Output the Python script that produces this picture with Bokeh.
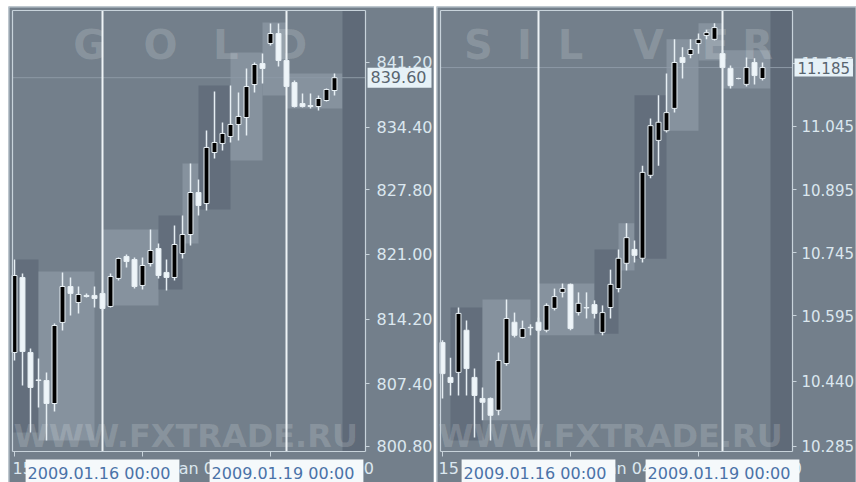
from bokeh.plotting import figure
from bokeh.layouts import row, column
from bokeh.models import (Range1d, FixedTicker, PrintfTickFormatter, Label, LinearAxis, Spacer)
from bokeh.embed import file_html
from bokeh.resources import INLINE

# ---------------- data: GOLD (H1) ----------------
gold_open = [810.69, 818.58, 810.69, 807.80, 807.74, 805.32, 813.85, 817.63, 815.95, 816.69,
             816.69, 816.90, 815.53, 818.48, 820.79, 820.47, 817.74, 820.05, 821.63, 819.11,
             818.58, 821.10, 823.10, 827.52, 826.36, 831.73, 832.68, 833.41, 834.68, 835.41,
             838.88, 841.09, 843.20, 844.25, 841.41, 839.09, 836.88, 836.67, 836.57, 837.20, 838.25]
gold_high = [820.47, 819.00, 811.10, 810.06, 808.59, 813.74, 819.11, 818.58, 817.63, 816.90,
             817.63, 817.21, 819.00, 820.68, 820.99, 820.68, 820.68, 823.63, 822.16, 820.47,
             824.05, 825.10, 830.57, 828.89, 834.04, 838.15, 834.89, 838.78, 838.04, 840.57,
             841.20, 842.14, 845.30, 845.30, 841.62, 839.30, 837.94, 837.94, 837.73, 838.46, 840.04]
gold_low = [809.85, 807.22, 802.27, 804.90, 801.43, 804.48, 813.00, 814.58, 814.79, 816.48,
            815.42, 815.11, 815.42, 818.26, 819.63, 817.42, 817.32, 819.74, 818.48, 817.21,
            818.26, 820.58, 821.95, 825.10, 825.63, 831.10, 831.94, 832.78, 833.00, 833.52,
            838.04, 838.99, 842.99, 840.78, 838.57, 836.46, 836.46, 836.36, 836.15, 837.10, 837.73]
gold_close = [818.79, 810.79, 807.01, 807.74, 805.32, 813.53, 817.63, 816.90, 816.79, 816.58,
              816.37, 815.32, 818.68, 820.58, 820.26, 817.63, 819.84, 821.42, 818.79, 818.58,
              822.05, 823.10, 827.52, 826.15, 832.26, 832.78, 833.73, 834.68, 835.52, 838.67,
              840.99, 840.57, 844.25, 841.41, 838.67, 836.57, 836.57, 836.57, 837.41, 838.36, 839.60]
gold_yticks = [800.80, 807.40, 814.20, 821.00, 827.80, 834.40, 841.20]
gold_xticks = [0, 16, 32]
gold_xtick_labels = ["15 Jan 13:00", "16 Jan 05:00", "16 Jan 21:00"]
gold_day_starts = [11, 34]
gold_day_labels = ["2009.01.16 00:00", "2009.01.19 00:00"]
gold_box_left = [-1, 3, 11, 18, 21, 23, 27, 31, 34]
gold_box_right = [3, 10, 18, 21, 23, 27, 31, 34, 41]
gold_box_top = [820.47, 819.21, 823.63, 825.10, 830.57, 838.78, 842.25, 845.41, 840.04]
gold_box_bottom = [802.27, 801.43, 815.64, 817.32, 822.16, 825.73, 830.89, 837.73, 836.36]
gold_box_kind = ["dark", "light", "light", "dark", "light", "dark", "light", "light", "light"]

# ---------------- data: SILVER (H1) ----------------
silver_open = [10.532, 10.449, 10.461, 10.561, 10.449, 10.399, 10.399, 10.371, 10.482, 10.580,
               10.544, 10.568, 10.580, 10.561, 10.613, 10.651, 10.670, 10.603, 10.615, 10.622,
               10.556, 10.615, 10.660, 10.720, 10.753, 10.732, 10.929, 11.012, 11.035, 11.088,
               11.209, 11.216, 11.242, 11.261, 11.252, 11.218, 11.183, 11.159, 11.145, 11.197, 11.159]
silver_high = [10.537, 10.496, 10.615, 10.584, 10.470, 10.425, 10.401, 10.508, 10.634, 10.603,
               10.584, 10.575, 10.591, 10.625, 10.660, 10.672, 10.672, 10.651, 10.651, 10.632,
               10.620, 10.705, 10.753, 10.815, 10.774, 10.952, 11.064, 11.119, 11.171, 11.252,
               11.233, 11.252, 11.266, 11.275, 11.290, 11.226, 11.190, 11.161, 11.209, 11.207, 11.197]
silver_low = [10.399, 10.406, 10.406, 10.406, 10.306, 10.347, 10.299, 10.359, 10.477, 10.544,
              10.542, 10.549, 10.556, 10.556, 10.608, 10.639, 10.561, 10.596, 10.589, 10.589,
              10.549, 10.589, 10.651, 10.703, 10.722, 10.722, 10.922, 10.952, 11.031, 11.078,
              11.159, 11.207, 11.218, 11.252, 11.249, 11.183, 11.135, 11.157, 11.140, 11.145, 11.154]
silver_close = [10.458, 10.437, 10.601, 10.470, 10.406, 10.390, 10.359, 10.489, 10.589, 10.549,
                10.565, 10.567, 10.561, 10.620, 10.641, 10.660, 10.565, 10.625, 10.614, 10.601,
                10.603, 10.670, 10.732, 10.781, 10.739, 10.936, 11.047, 11.055, 11.078, 11.197,
                11.197, 11.228, 11.252, 11.268, 11.280, 11.185, 11.142, 11.159, 11.185, 11.166, 11.185]
silver_yticks = [10.285, 10.440, 10.595, 10.745, 10.895, 11.045, 11.195]
silver_xticks = [0, 16, 32]
silver_xtick_labels = ["15 Jan 12:00", "16 Jan 04:00", "16 Jan 20:00"]
silver_day_starts = [12, 35]
silver_day_labels = ["2009.01.16 00:00", "2009.01.19 00:00"]
silver_box_left = [1, 5, 12, 19, 22, 24, 28, 32, 35]
silver_box_right = [5, 11, 19, 22, 24, 28, 32, 35, 41]
silver_box_top = [10.615, 10.634, 10.672, 10.753, 10.815, 11.119, 11.252, 11.290, 11.226]
silver_box_bottom = [10.299, 10.347, 10.549, 10.553, 10.703, 10.731, 11.035, 11.202, 11.135]
silver_box_kind = ["dark", "light", "light", "dark", "light", "dark", "light", "light", "light"]

# ---------------- styles ----------------
BG = "#737f8b"
BOX_COLORS = {"light": "#86929e", "dark": "#636e7c"}
STRIP = "#5f6a78"
FRAME = "#c8d3db"
WICK = "#e6eef3"
BEAR_FILL = "#eef5f9"
BULL_FILL = "#000000"
TEXT = "#dbe7ef"
FONT = "DejaVu Sans"


def make_panel(o, h, l, c, yticks, fmt, xticks, xlabels, xlabel_dx, days, day_labels,
               bl, br, bt, bb, bk, view, chart, width,
               title_letters, letter_x, letter_y, wm_x, wm_y,
               ylabel_size="16px", ylabel_standoff=7, price_pad=5):
    # view  = (x_start, x_end, y_start, y_end) of the whole window
    # chart = (left, right, bottom, top) of the price chart inside the window
    x0v, x1v, y0v, y1v = view
    cl, cr, cb, ct = chart
    p = figure(width=width, height=476, x_range=Range1d(x0v, x1v),
               y_range=Range1d(y0v, y1v), x_axis_location=None, y_axis_location=None,
               output_backend="svg", toolbar_location=None, min_border=0,
               background_fill_color=BG, border_fill_color=BG, outline_line_color=None)
    p.grid.visible = False

    # session boxes (clipped to the chart area)
    p.quad(left=[max(v, cl) for v in bl], right=br, top=bt,
           bottom=[max(v, cb) for v in bb],
           fill_color=[BOX_COLORS[k] for k in bk], line_color=None, level="underlay")
    # empty future area at the right of the chart
    p.quad(left=[len(c)], right=[cr], top=[ct], bottom=[cb], fill_color=STRIP,
           line_color=None, level="underlay")

    # watermarks
    for ch, lx in zip(title_letters, letter_x):
        p.add_layout(Label(x=lx, y=letter_y, text=ch, text_align="center",
                           text_baseline="middle", text_font=FONT, text_font_style="bold",
                           text_font_size="40px", text_color="#ffffff", text_alpha=0.16,
                           level="underlay"))
    p.add_layout(Label(x=wm_x, y=wm_y, text="WWW.FXTRADE.RU", text_align="center",
                       text_baseline="middle", text_font=FONT, text_font_style="bold",
                       text_font_size="32px", text_color="#ffffff", text_alpha=0.16,
                       level="underlay"))

    # bid line and day separators
    p.segment(x0=[cl], y0=[c[-1]], x1=[cr], y1=[c[-1]], line_color="#8d99a5", line_width=1)
    p.segment(x0=days, y0=[cb] * len(days), x1=days, y1=[ct] * len(days),
              line_color="#eef3f6", line_width=2)

    # candles
    x = list(range(len(c)))
    p.segment(x0=x, y0=l, x1=x, y1=h, line_color=WICK, line_width=1.5)
    top = [max(a, b) for a, b in zip(o, c)]
    bot = [min(a, b) for a, b in zip(o, c)]
    fill = [BULL_FILL if b > a else BEAR_FILL for a, b in zip(o, c)]
    p.vbar(x=x, width=0.62, top=top, bottom=bot, fill_color=fill,
           line_color=WICK, line_width=1)

    # chart frame
    p.segment(x0=[cl, cl, cl, cr], y0=[cb, ct, cb, cb], x1=[cr, cr, cl, cr],
              y1=[cb, ct, ct, ct], line_color=FRAME, line_width=1.2)
    # window border (left, top, right edges)
    p.segment(x0=[x0v, x0v, x1v], y0=[y0v, y1v, y0v], x1=[x0v, x1v, x1v],
              y1=[y1v, y1v, y1v], line_color="#c3cfd8", line_width=2)

    # price axis (right of chart)
    ya = LinearAxis(fixed_location=cr, ticker=FixedTicker(ticks=yticks),
                    formatter=PrintfTickFormatter(format=fmt))
    ya.major_label_text_font = FONT
    ya.major_label_text_font_size = ylabel_size
    ya.major_label_text_color = TEXT
    ya.major_label_standoff = ylabel_standoff
    ya.major_tick_out = 4
    ya.major_tick_in = 0
    ya.minor_tick_out = 0
    ya.minor_tick_in = 0
    ya.major_tick_line_color = FRAME
    ya.axis_line_color = None
    p.add_layout(ya, "right")

    # time axis (below chart): ticks from the axis, labels left-aligned as text
    xa = LinearAxis(fixed_location=cb, ticker=FixedTicker(ticks=xticks))
    xa.major_label_overrides = {t: "" for t in xticks}
    xa.major_label_text_font_size = "1px"
    xa.major_tick_out = 5
    xa.major_tick_in = 0
    xa.minor_tick_out = 0
    xa.minor_tick_in = 0
    xa.major_tick_line_color = FRAME
    xa.axis_line_color = None
    p.add_layout(xa, "below")
    for t, s, dx in zip(xticks, xlabels, xlabel_dx):
        p.add_layout(Label(x=t, y=cb, x_offset=dx, y_offset=-7, text=s,
                           text_align="left", text_baseline="top", text_font=FONT,
                           text_font_size="16px", text_color=TEXT))
    for d, s in zip(days, day_labels):
        p.add_layout(Label(x=d, y=cb, y_offset=-8, text=s, text_align="center",
                           text_baseline="top", text_font=FONT, text_font_size="16px",
                           text_color="#4a72a8", background_fill_color="#f5f9fb",
                           padding=(2, 9, 4, 9)))

    # current price box
    p.add_layout(Label(x=cr, y=c[-1], x_offset=2, text=fmt % c[-1],
                       text_align="left", text_baseline="middle", text_font=FONT,
                       text_font_size=ylabel_size, text_color="#59656f",
                       background_fill_color="#e6f1f7",
                       padding=(3, price_pad, 3, price_pad)))
    return p


p1 = make_panel(gold_open, gold_high, gold_low, gold_close, gold_yticks, "%.2f",
                gold_xticks, gold_xtick_labels, [-2, 6, 2], gold_day_starts, gold_day_labels,
                gold_box_left, gold_box_right, gold_box_top, gold_box_bottom, gold_box_kind,
                (-0.75, 52.5, 797.01, 847.09), (-0.25, 43.875, 800.27, 846.67), 426,
                ["G", "O", "L", "D"], [9.4, 18.25, 26.4, 34.5], 842.99, 21.4, 801.85)
p2 = make_panel(silver_open, silver_high, silver_low, silver_close, silver_yticks, "%.3f",
                silver_xticks, silver_xtick_labels, [-4, 6, 2], silver_day_starts,
                silver_day_labels,
                silver_box_left, silver_box_right, silver_box_top, silver_box_bottom,
                silver_box_kind,
                (-0.75, 51.75, 10.1994, 11.3300), (-0.25, 43.75, 10.2730, 11.3205), 420,
                ["S", "I", "L", "V", "E", "R"], [4.5, 10.25, 16.0, 25.75, 34.1, 39.4],
                11.2374, 21.0, 10.309,
                ylabel_size="15px", ylabel_standoff=5, price_pad=3)

layout = column(Spacer(height=6),
                row(Spacer(width=8), p1, Spacer(width=2), p2, spacing=0),
                spacing=0)
open("out.html", "w").write(file_html(layout, INLINE))
